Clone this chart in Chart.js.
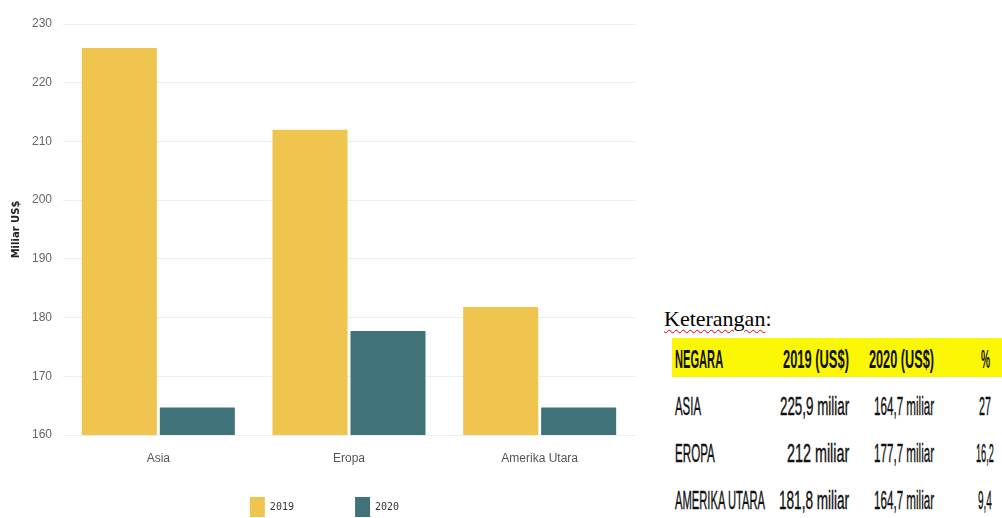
<!DOCTYPE html>
<html>
<head>
<meta charset="utf-8">
<script src="https://cdn.jsdelivr.net/npm/chart.js@4"></script>
<style>
body { margin: 0; width: 1002px; height: 518px; overflow: hidden; background: #fff; position: relative; }
#wrap { position: absolute; left: 0; top: 0; width: 650px; height: 527px; }
#ket { position: absolute; left: 664px; top: 306px; font: 22px 'Liberation Serif', serif; color: #000; }
#ket u { text-decoration: underline wavy #d00; text-decoration-thickness: 1px; text-underline-offset: 3px; }
#band { position: absolute; left: 672px; top: 338px; width: 330px; height: 39px; background: #fbf704; }
.c { position: absolute; white-space: nowrap; font-family: 'Liberation Sans Narrow', 'Liberation Sans', sans-serif;
     font-size: 25px; line-height: 26px; color: #111; transform-origin: 0 50%; -webkit-text-stroke: 0.4px #111; }
.b { font-weight: bold; -webkit-text-stroke: 0; }
</style>
</head>
<body>
<div id="wrap"><canvas id="chart" width="650" height="527"></canvas></div>
<div id="ket"><u>Keterangan</u>:</div>
<div id="band"></div>
<div id="tbl"></div>
<script>
// data
const regions = ['Asia', 'Eropa', 'Amerika Utara'];
const negara = ['ASIA', 'EROPA', 'AMERIKA UTARA'];
const val2019 = [225.9, 212, 181.8];
const val2020 = [164.7, 177.7, 164.7];
const persen = ['27', '16,2', '9,4'];
const header = ['NEGARA', '2019 (US$)', '2020 (US$)', '%'];
const yMin = 160, yMax = 230, yStep = 10;

new Chart(document.getElementById('chart'), {
    type: 'bar',
    data: {
        labels: regions,
        datasets: [
            { label: '2019', data: val2019, backgroundColor: '#efc54f', categoryPercentage: 0.818, barPercentage: 0.962 },
            { label: '2020', data: val2020, backgroundColor: '#3f7379', categoryPercentage: 0.818, barPercentage: 0.962 }
        ]
    },
    options: {
        responsive: false,
        animation: false,
        layout: { padding: { left: 14, right: 15, top: 24, bottom: 0 } },
        plugins: {
            tooltip: { enabled: false },
            legend: {
                position: 'bottom',
                labels: {
                    boxWidth: 15, boxHeight: 20, padding: 25, color: '#333',
                    font: { family: 'DejaVu Sans Mono', size: 10 },
                    // widen the gap between the two legend items
                    generateLabels(chart) {
                        const items = Chart.defaults.plugins.legend.labels.generateLabels(chart);
                        items[0].text += '      ';
                        return items;
                    }
                }
            }
        },
        scales: {
            x: {
                grid: { display: false, drawTicks: false },
                border: { display: false },
                ticks: { color: '#555', padding: 16, font: { family: 'Liberation Sans', size: 12 } },
                afterFit(s) { s.height = 37; }
            },
            y: {
                min: yMin, max: yMax,
                grid: { color: '#eeeeee', drawTicks: false },
                border: { display: false },
                ticks: { stepSize: yStep, color: '#666', padding: 11, font: { family: 'Liberation Sans', size: 12 } },
                title: {
                    display: true, text: 'Miliar US$', color: '#222',
                    font: { family: 'DejaVu Sans', size: 10, weight: 'bold' },
                    padding: { top: -4, bottom: 0 }
                },
                afterFit(s) { s.width = 49; }
            }
        }
    }
});

// table (keterangan)
const fmt = v => String(v).replace('.', ',') + ' miliar';
const rows = negara.map((n, i) => [n, fmt(val2019[i]), fmt(val2020[i]), persen[i]]);

const rowY = [359, 406, 453, 500];
const colX = [675, 849, 934, 985];
const colAlign = ['l', 'r', 'r', 'c'];
const cellW = [
    [48, 66, 65, 9],
    [26, 69, 60, 12],
    [40, 62, 60, 18],
    [90, 70, 60, 14]
];

const tbl = document.getElementById('tbl');
function cell(text, r, c, bold) {
    const el = document.createElement('div');
    el.className = 'c' + (bold ? ' b' : '');
    el.textContent = text;
    tbl.appendChild(el);
    const w = cellW[r][c];
    const k = w / el.offsetWidth;
    let left = colX[c];
    if (colAlign[c] === 'r') left = colX[c] - w;
    if (colAlign[c] === 'c') left = colX[c] - w / 2;
    el.style.left = left + 'px';
    el.style.top = (rowY[r] - 13) + 'px';
    el.style.transform = 'scaleX(' + k + ')';
}
header.forEach((h, c) => cell(h, 0, c, true));
rows.forEach((row, r) => row.forEach((t, c) => cell(t, r + 1, c, false)));
</script>
</body>
</html>
